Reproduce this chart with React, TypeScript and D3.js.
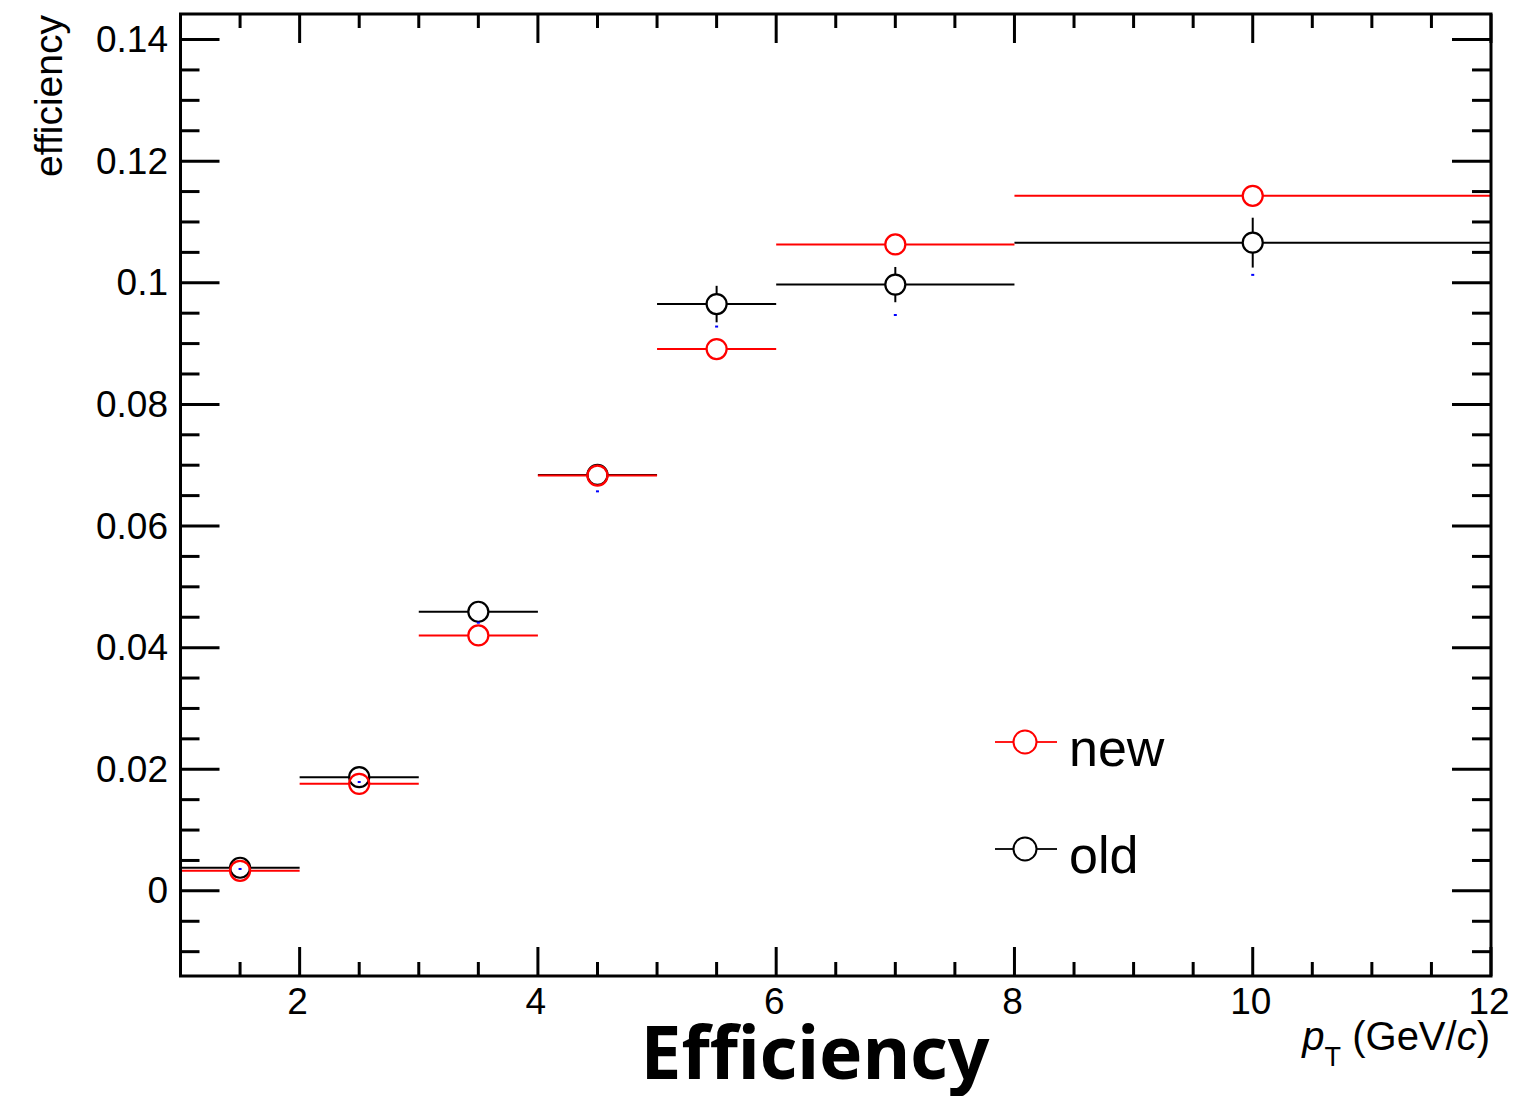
import React from "react";
import * as d3 from "d3";

const binEdges = [1, 2, 3, 4, 5, 6, 8, 12];
const binCenters = [1.5, 2.5, 3.5, 4.5, 5.5, 7, 10];
const newVals = [0.0033, 0.0176, 0.042, 0.0683, 0.0891, 0.1063, 0.1143];
const oldVals = [0.0038, 0.0187, 0.0459, 0.0684, 0.0965, 0.0997, 0.1066];
const oldErrs = [0.0008, 0.0012, 0.0015, 0.0018, 0.003, 0.0029, 0.0041];
const blueVals = [0.0036, 0.0179, 0.0441, 0.0657, 0.0928, 0.0947, 0.1013];
const xMajorTicks = [2, 4, 6, 8, 10, 12];
const yMajorTicks = [0, 0.02, 0.04, 0.06, 0.08, 0.1, 0.12, 0.14];
const yTickLabels = ["0", "0.02", "0.04", "0.06", "0.08", "0.1", "0.12", "0.14"];
const legendLabels = ["new", "old"];

const W = 1518, H = 1096;
const L = 180.5, R = 1491, T = 14, B = 976;
const FONT = "'Liberation Sans', Arial, Helvetica, sans-serif";

export default function App() {
  const x = d3.scaleLinear().domain([1, 12]).range([L, R]);
  const y = d3.scaleLinear().domain([-0.014, 0.1442]).range([B, T]);
  const xMinor = d3.range(1.5, 12, 0.5).filter((v) => !xMajorTicks.includes(v));
  const yMinor = d3.range(-0.01, 0.1425, 0.005).filter(
    (v) => !yMajorTicks.some((m) => Math.abs(m - v) < 1e-9)
  );
  const r = 10;

  const series = (vals: number[], color: string, errs: number[] | null) =>
    vals.map((v, i) => {
      const cx = x(binCenters[i]);
      const cy = y(v);
      const x0 = x(binEdges[i]);
      const x1 = x(binEdges[i + 1]);
      const segs: JSX.Element[] = [];
      segs.push(<line key="l" x1={x0} x2={cx - r} y1={cy} y2={cy} stroke={color} strokeWidth={2} />);
      segs.push(<line key="r" x1={cx + r} x2={x1} y1={cy} y2={cy} stroke={color} strokeWidth={2} />);
      if (errs) {
        const yt = y(v + errs[i]);
        const yb = y(v - errs[i]);
        if (cy - yt > r) segs.push(<line key="u" x1={cx} x2={cx} y1={yt} y2={cy - r} stroke={color} strokeWidth={2} />);
        if (yb - cy > r) segs.push(<line key="d" x1={cx} x2={cx} y1={cy + r} y2={yb} stroke={color} strokeWidth={2} />);
      }
      segs.push(<circle key="c" cx={cx} cy={cy} r={r} fill="none" stroke={color} strokeWidth={2.2} />);
      return <g key={i}>{segs}</g>;
    });

  return (
    <svg width={W} height={H} style={{ position: "absolute", left: 0, top: 0, background: "#fff" }}>
      <rect x={0} y={0} width={W} height={H} fill="#fff" />
      {series(oldVals, "#000", oldErrs)}
      {series(newVals, "#ff0000", null)}
      {blueVals.map((v, i) => (
        <rect key={i} x={x(binCenters[i]) - 1.5} y={y(v) - 1} width={3} height={2} fill="#0000ff" />
      ))}
      <g stroke="#000" strokeWidth={3}>
        {xMajorTicks.map((t) => (
          <g key={"xm" + t}>
            <line x1={x(t)} x2={x(t)} y1={B} y2={B - 29} />
            <line x1={x(t)} x2={x(t)} y1={T} y2={T + 29} />
          </g>
        ))}
        {xMinor.map((t) => (
          <g key={"xn" + t}>
            <line x1={x(t)} x2={x(t)} y1={B} y2={B - 14} />
            <line x1={x(t)} x2={x(t)} y1={T} y2={T + 14} />
          </g>
        ))}
        {yMajorTicks.map((t) => (
          <g key={"ym" + t}>
            <line x1={L} x2={L + 39} y1={y(t)} y2={y(t)} />
            <line x1={R} x2={R - 39} y1={y(t)} y2={y(t)} />
          </g>
        ))}
        {yMinor.map((t) => (
          <g key={"yn" + t}>
            <line x1={L} x2={L + 19} y1={y(t)} y2={y(t)} />
            <line x1={R} x2={R - 19} y1={y(t)} y2={y(t)} />
          </g>
        ))}
      </g>
      <rect x={L} y={T} width={R - L} height={B - T} fill="none" stroke="#000" strokeWidth={3} />
      <g fontFamily={FONT} fontSize={37} fill="#000">
        {yMajorTicks.map((t, i) => (
          <text key={"yl" + t} x={168} y={y(t)} textAnchor="end" dominantBaseline="central">
            {yTickLabels[i]}
          </text>
        ))}
        {xMajorTicks.map((t) => (
          <text key={"xl" + t} x={x(t) - 2} y={1014} textAnchor="middle">
            {t}
          </text>
        ))}
      </g>
      <text
        transform="translate(62,15) rotate(-90)"
        textAnchor="end"
        fontFamily={FONT}
        fontSize={39}
        fill="#000"
      >
        efficiency
      </text>
      <text x={1490} y={1050} textAnchor="end" fontFamily={FONT} fontSize={40} fill="#000">
        <tspan fontStyle="italic">p</tspan>
        <tspan fontSize={27} dy={16}>T</tspan>
        <tspan dy={-16}> (GeV/</tspan>
        <tspan fontStyle="italic">c</tspan>
        <tspan>)</tspan>
      </text>
      <text x={815} y={1079} textAnchor="middle" fontFamily="'Noto Sans', 'Open Sans', sans-serif" fontWeight="bold" fontSize={73} fill="#000">
        Efficiency
      </text>
      {legendLabels.map((lab, i) => {
        const ly = 742 + i * 107;
        const col = i === 0 ? "#ff0000" : "#000";
        return (
          <g key={lab}>
            <line x1={995} x2={1013} y1={ly} y2={ly} stroke={col} strokeWidth={1.8} />
            <line x1={1037} x2={1057} y1={ly} y2={ly} stroke={col} strokeWidth={1.8} />
            <circle cx={1025} cy={ly} r={11.5} fill="none" stroke={col} strokeWidth={2} />
            <text x={1069} y={ly + 24} fontFamily={FONT} fontSize={52} fill="#000">
              {lab}
            </text>
          </g>
        );
      })}
    </svg>
  );
}
